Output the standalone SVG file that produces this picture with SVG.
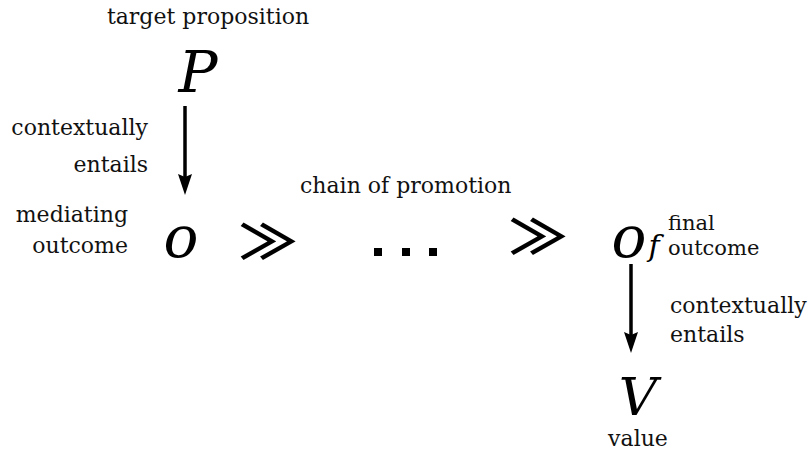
<svg xmlns="http://www.w3.org/2000/svg" width="809" height="453" viewBox="0 0 809 453">
<style>
.lbl{font-family:"DejaVu Serif","Liberation Serif",serif;font-size:22px;fill:#111}
.math{font-family:"DejaVu Serif","Liberation Serif",serif;font-style:italic;font-size:58px;fill:#000}
.rel{font-family:"Noto Sans CJK JP","DejaVu Sans",sans-serif;font-weight:700;font-size:48px;fill:#000}
.conn{stroke:#000;stroke-width:3.5;fill:none}
.head{fill:#000}
</style>
<rect width="809" height="453" fill="#fff"/>
<g id="P">
<text class="lbl" x="208" y="24" text-anchor="middle">target proposition</text>
<text class="math" x="198" y="92" text-anchor="middle">P</text>
</g>
<g id="o">
<text class="lbl" x="128" y="222" text-anchor="end">mediating</text>
<text class="lbl" x="128" y="253" text-anchor="end">outcome</text>
<text class="math" x="181" y="257" text-anchor="middle">o</text>
</g>
<g id="chain">
<text class="lbl" x="300" y="193">chain of promotion</text>
<text class="rel" transform="translate(268,259) scale(1.22,1)" text-anchor="middle">≫</text>
<rect x="374" y="248" width="8" height="8" fill="#000"/>
<rect x="402" y="248" width="8" height="8" fill="#000"/>
<rect x="429" y="248" width="8" height="8" fill="#000"/>
<text class="rel" transform="translate(538,254) scale(1.22,1)" text-anchor="middle">≫</text>
</g>
<g id="of">
<text class="math" x="629" y="257" text-anchor="middle">o</text>
<text class="math" x="654" y="256" text-anchor="middle" style="font-size:30px">f</text>
<text class="lbl" x="668" y="230" style="font-size:21px">final</text>
<text class="lbl" x="668" y="255" style="font-size:21px">outcome</text>
</g>
<g id="V">
<text class="math" x="638" y="415" text-anchor="middle" style="font-size:53px">V</text>
<text class="lbl" x="638" y="446" text-anchor="middle">value</text>
</g>
<g id="connectors">
<line class="conn" x1="185" y1="106" x2="185" y2="180"/>
<path class="head" d="M178,174 L185,177 L192,174 L185,195 Z"/>
<text class="lbl" x="148" y="135" text-anchor="end">contextually</text>
<text class="lbl" x="148" y="172" text-anchor="end">entails</text>
<line class="conn" x1="631" y1="264" x2="631" y2="338"/>
<path class="head" d="M624,332 L631,335 L638,332 L631,353 Z"/>
<text class="lbl" x="670" y="313">contextually</text>
<text class="lbl" x="670" y="342">entails</text>
</g>
</svg>
